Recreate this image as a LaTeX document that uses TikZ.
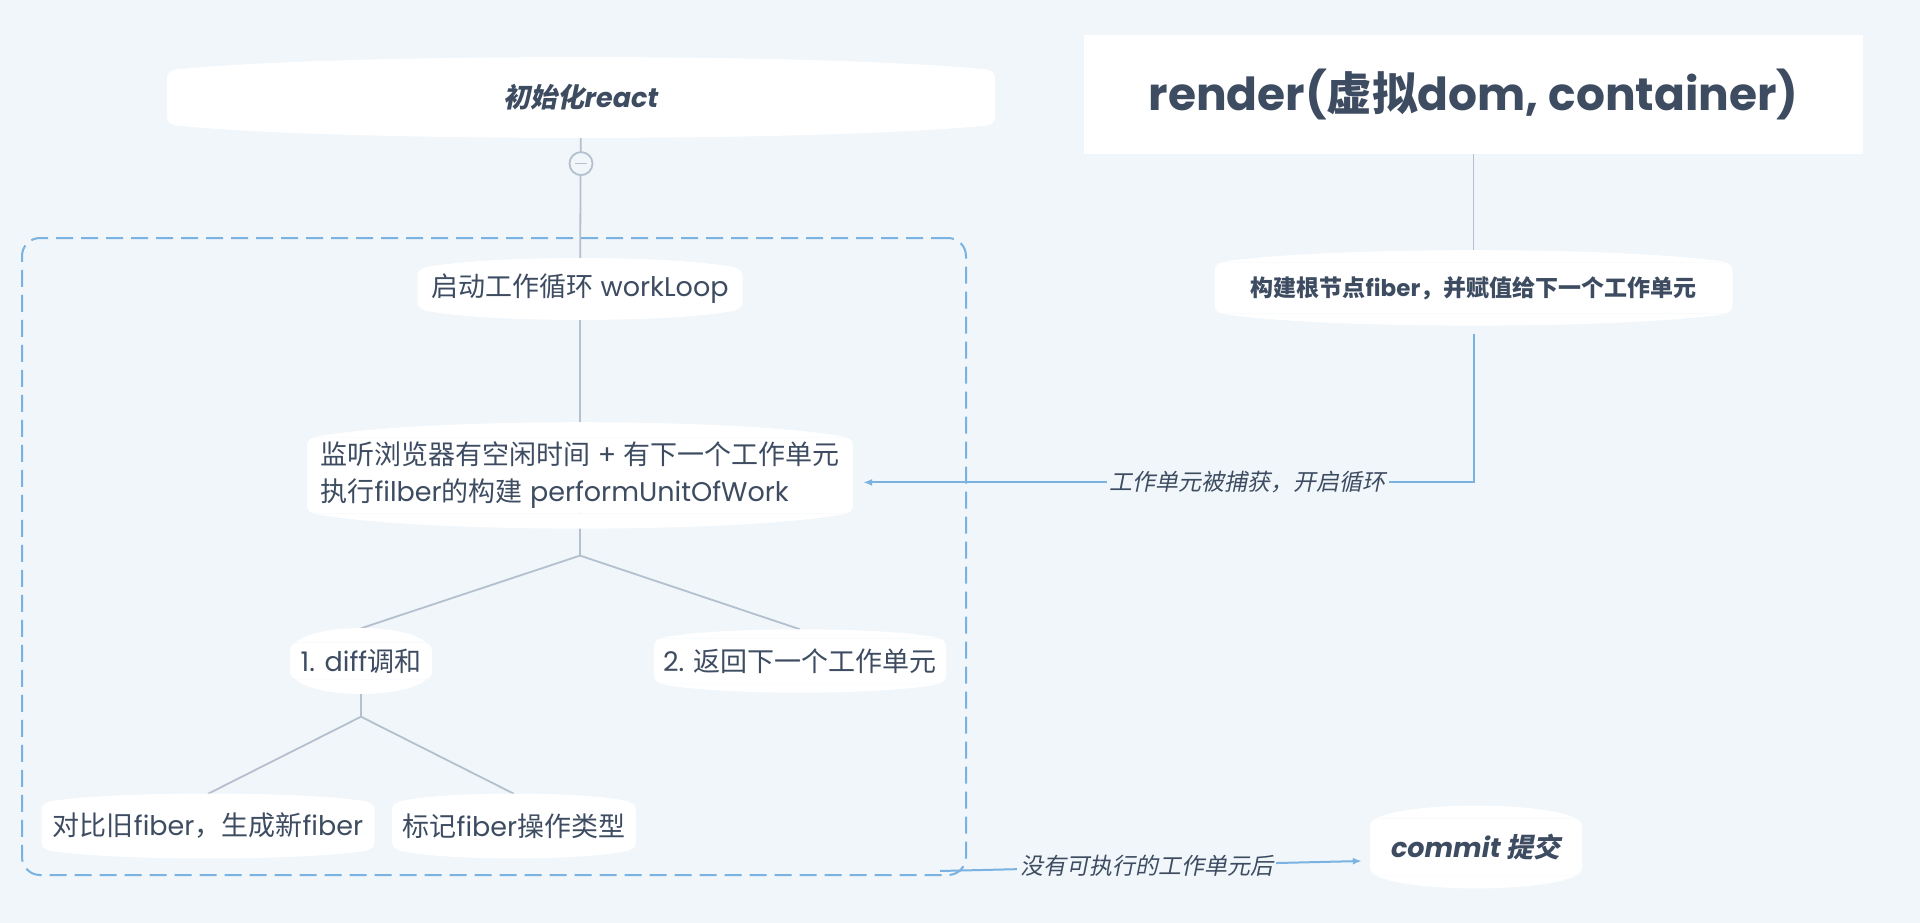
\documentclass[tikz,border=0pt]{standalone}
\usepackage{fontspec}
\setmainfont{Poppins}
\newfontfamily\cjk{Noto Sans CJK SC}
\newfontfamily\cjksl[FakeSlant=0.2]{Noto Sans CJK SC}
\usetikzlibrary{positioning,calc,arrows.meta}

\definecolor{bgblue}{RGB}{240,246,250}
\definecolor{ink}{RGB}{62,76,98}
\definecolor{wire}{RGB}{180,192,206}
\definecolor{flow}{RGB}{122,178,226}

\pgfdeclarelayer{back}
\pgfdeclarelayer{wires}
\pgfsetlayers{back,wires,main}

\tikzset{
  topic/.style={fill=white, rounded corners=8pt, text=ink, inner sep=0pt,
    align=center, font=\fontsize{27}{37}\selectfont},
  link/.style={draw=wire, line width=1.8pt},
  flowline/.style={draw=flow, line width=2pt, -{Latex[length=9pt,width=7pt]}},
  flowlabel/.style={fill=bgblue, text=ink, inner sep=3pt,
    font=\fontsize{23}{28}\selectfont\cjksl},
}

% white cap on top and bottom of a topic; #2 = control lift
\newcommand\bulge[2]{%
  \fill[white] ([xshift=6pt]#1.north west)
    .. controls ($(#1.north west)!.2!(#1.north east)+(0pt,#2pt)$)
    and ($(#1.north west)!.8!(#1.north east)+(0pt,#2pt)$)
    .. ([xshift=-6pt]#1.north east) -- cycle
    ([xshift=6pt]#1.south west)
    .. controls ($(#1.south west)!.2!(#1.south east)-(0pt,#2pt)$)
    and ($(#1.south west)!.8!(#1.south east)-(0pt,#2pt)$)
    .. ([xshift=-6pt]#1.south east) -- cycle;}

\begin{document}
\begin{tikzpicture}[x=1pt,y=-1pt]
\begin{pgfonlayer}{back}
 \fill[bgblue] (0,0) rectangle (1920,923);
\end{pgfonlayer}

% left tree
\node[topic, minimum width=828pt, minimum height=55pt,
  font=\fontsize{27}{32}\selectfont\bfseries\itshape] (react) at (581,97.5) {{\cjksl 初始化}react};
\node[circle, draw=wire, line width=1.8pt, fill=bgblue, minimum size=23pt,
  inner sep=0pt, below=26pt of react] (fold) {};
\draw[wire, line width=1.8pt] ([xshift=-6pt]fold.center) -- ([xshift=6pt]fold.center);

\node[draw=flow, dash pattern=on 17pt off 8pt, line width=2pt, rounded corners=18pt,
  minimum width=944pt, minimum height=637pt, inner sep=0pt] (frame) at (494,556.5) {};

\node[topic, minimum width=325pt, minimum height=42pt] (loop) at (580,289) {{\cjk 启动工作循环} workLoop};
\node[topic, minimum width=546pt, minimum height=76pt, align=left,
  below=127pt of loop] (perform) {{\cjk 监听浏览器有空闲时间} + {\cjk 有下一个工作单元}\\
  {\cjk 执行}filber{\cjk 的构建} performUnitOfWork};
\coordinate[below=42pt of perform] (j1);

\node[topic, minimum width=142pt, minimum height=37pt] (diff) at (361,661) {1. diff{\cjk 调和}};
\node[topic, minimum width=292pt, minimum height=45pt] (ret) at (800,661) {2. {\cjk 返回下一个工作单元}};
\coordinate[below=37pt of diff] (j2);

\node[topic, minimum width=333pt, minimum height=48pt] (cmp) at (208,826) {{\cjk 对比旧}fiber{\cjk ，生成新}fiber};
\node[topic, minimum width=244pt, minimum height=48pt] (mark) at (514,826) {{\cjk 标记}fiber{\cjk 操作类型}};

% right column
\node[fill=white, minimum width=779pt, minimum height=119pt, text=ink,
  font=\fontsize{45.5}{55}\selectfont\bfseries] (render) at (1473.5,94.5) {render({\cjk 虚拟}dom, container)};
\node[topic, minimum width=518pt, minimum height=51pt, font=\fontsize{23}{28}\selectfont\bfseries,
  below=108pt of render] (root) {{\cjk 构建根节点}fiber{\cjk ，并赋值给下一个工作单元}};
\node[topic, minimum width=212pt, minimum height=57pt,
  font=\fontsize{27}{32}\selectfont\bfseries\itshape] (commit) at (1476,847) {commit {\cjksl 提交}};

\foreach \n/\c in {react/17, loop/13, perform/20, diff/19, ret/12, cmp/11, mark/11, root/16, commit/17}
  {\bulge{\n}{\c}}

% edges
\begin{pgfonlayer}{wires}
 \draw[link] (react) -- (loop);
 \draw[link] (loop) -- (perform);
 \draw[link] (perform) -- (j1) -- ([yshift=14pt]diff.north);
 \draw[link] (j1) -- ([yshift=9pt]ret.north);
 \draw[link] (diff) -- (j2) -- ([yshift=8pt]cmp.north);
 \draw[link] (j2) -- ([yshift=8pt]mark.north);
 \draw[link] (render) -- (root);
\end{pgfonlayer}

\draw[flowline] ([yshift=-20pt]root.south) |- node[flowlabel, pos=0.685] {工作单元被捕获，开启循环}
  ([shift={(10pt,-7pt)}]perform.east);
\coordinate (exit) at ([shift={(-27pt,5pt)}]frame.south east);
\draw[flowline] (exit) -- node[flowlabel, pos=0.49] {没有可执行的工作单元后}
  ([shift={(-8pt,-14pt)}]commit.west);
\end{tikzpicture}
\end{document}
